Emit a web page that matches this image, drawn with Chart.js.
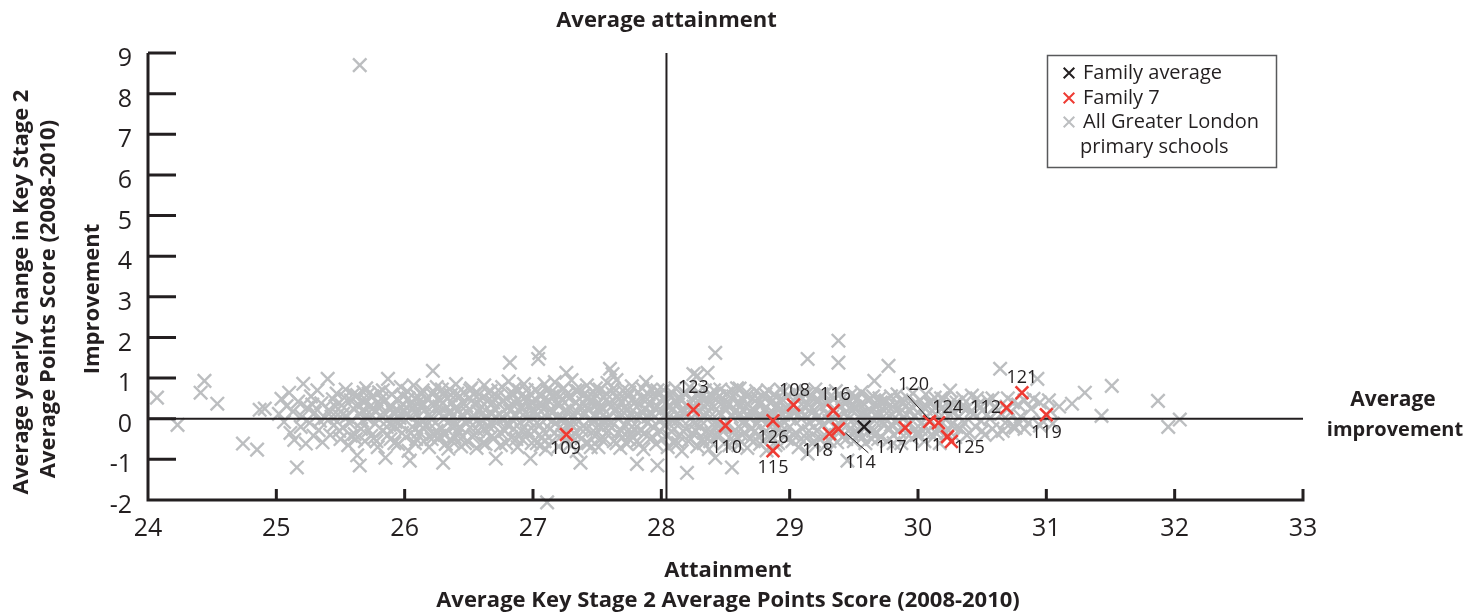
<!DOCTYPE html>
<html>
<head>
<meta charset="utf-8">
<script src="https://cdn.jsdelivr.net/npm/chart.js@4.4.0/dist/chart.umd.min.js"></script>
<style>
  html, body { margin: 0; padding: 0; background: #fff; }
</style>
</head>
<body>
<canvas id="myChart" width="1463" height="612"></canvas>
<script>
const xTicks = [24, 25, 26, 27, 28, 29, 30, 31, 32, 33];
const yTicks = [-2, -1, 0, 1, 2, 3, 4, 5, 6, 7, 8, 9];

const averageAttainment = 28.04;
const averageImprovement = 0;

const familyAverage = [[29.58, -0.20]];

const family7Ids = ['109', '123', '110', '126', '115', '108', '116', '118', '114', '117', '120', '124', '111', '125', '112', '121', '119'];
const family7Attainment = [27.26, 28.25, 28.50, 28.87, 28.87, 29.03, 29.34, 29.31, 29.38, 29.90, 30.09, 30.16, 30.23, 30.26, 30.69, 30.81, 31.00];
const family7Improvement = [-0.39, 0.22, -0.17, -0.05, -0.79, 0.34, 0.20, -0.37, -0.25, -0.22, -0.07, -0.10, -0.44, -0.56, 0.27, 0.64, 0.10];

// all Greater London primary schools
const schools24 = [[24.07,0.52],[24.23,-0.15],[24.41,0.64],[24.44,0.93],[24.54,0.37],[24.74,-0.61],[24.85,-0.76],[24.87,0.22],[24.91,0.25]];

const schools25 = [[25.02,0.12],[25.04,0.49],[25.06,-0.08],[25.08,0.31],[25.1,0.64],[25.11,-0.35],[25.13,0.18],[25.14,-0.52],[25.16,-1.2],[25.17,0.42],
  [25.19,-0.2],[25.2,0.05],[25.21,0.86],[25.23,-0.61],[25.24,0.27],[25.26,-0.1],[25.27,0.55],[25.29,-0.42],[25.3,0.15],[25.32,0.7],
  [25.33,-0.28],[25.35,0.38],[25.36,-0.58],[25.38,0.02],[25.4,0.98],[25.41,0.22],[25.42,-0.4],[25.44,0.48],[25.45,-0.15],[25.47,0.62],
  [25.48,0.1],[25.5,-0.5],[25.51,0.33],[25.52,-0.22],[25.54,0.72],[25.55,0.05],[25.56,-0.65],[25.58,0.45],[25.59,-0.05],[25.6,0.25],
  [25.61,-0.38],[25.63,-0.9],[25.63,0.58],[25.65,-1.15],[25.65,0.12],[25.66,-0.25],[25.68,0.4],[25.69,-0.55],[25.7,0.75],[25.71,0.0],
  [25.73,0.3],[25.74,-0.42],[25.75,0.55],[25.77,-0.12],[25.78,0.18],[25.79,-0.7],[25.8,0.65],[25.81,0.08],[25.83,-0.3],[25.84,0.42],
  [25.85,-0.96],[25.86,-0.05],[25.87,0.98],[25.88,0.28],[25.89,-0.5],[25.9,0.6],[25.91,0.15],[25.92,-0.2],[25.94,0.48],[25.95,-0.62],
  [25.96,0.02],[25.97,0.78],[25.98,-0.35],[25.99,0.35],[25.72,0.62],[25.76,-0.48],[25.82,0.5],[25.93,-0.08],[25.67,0.2],
  [25.43,0.05],[25.46,0.3],[25.49,-0.3],[25.53,0.52],[25.57,-0.1],[25.6,0.6],[25.62,-0.5],[25.64,0.35],[25.67,-0.05],[25.7,0.45],
  [25.72,-0.28],[25.75,0.25],[25.78,-0.55],[25.8,0.35],[25.83,0.7],[25.85,0.1],[25.87,-0.4],[25.9,0.3],[25.92,-0.6],[25.95,0.2],
  [25.97,-0.15],[25.99,0.55],[25.52,0.12],[25.58,-0.42],[25.68,0.65],[25.74,0.1],[25.86,-0.2],[25.94,0.05],[25.34,-0.05],[25.28,0.35]];

const schools26 = [[26.0,0.2],[26.01,-0.45],[26.02,0.68],[26.03,-0.79],[26.04,-1.03],[26.04,0.05],[26.05,0.4],[26.06,-0.2],[26.07,0.82],[26.08,-0.6],
  [26.09,0.12],[26.1,0.55],[26.11,-0.32],[26.12,0.3],[26.13,-0.05],[26.14,0.7],[26.15,-0.55],[26.16,0.22],[26.17,-0.15],[26.18,0.48],
  [26.19,-0.7],[26.2,0.02],[26.21,0.62],[26.22,1.18],[26.22,-0.38],[26.23,0.35],[26.24,-0.1],[26.25,0.78],[26.26,-0.5],[26.27,0.15],
  [26.28,0.45],[26.29,-0.25],[26.3,-1.08],[26.3,0.6],[26.31,0.0],[26.32,-0.62],[26.33,0.28],[26.34,-0.74],[26.35,0.72],[26.36,-0.18],
  [26.37,0.4],[26.38,0.08],[26.39,-0.45],[26.4,0.85],[26.41,0.2],[26.42,-0.3],[26.43,0.55],[26.44,-0.68],[26.45,0.1],[26.46,0.65],
  [26.47,-0.08],[26.48,0.32],[26.49,-0.55],[26.5,0.5],[26.51,-0.22],[26.52,0.75],[26.53,0.02],[26.54,-0.4],[26.55,0.38],[26.56,-0.72],
  [26.57,0.18],[26.58,0.6],[26.59,-0.12],[26.6,0.3],[26.61,-0.6],[26.62,0.82],[26.63,0.05],[26.64,-0.35],[26.65,0.45],[26.66,-0.2],
  [26.67,0.68],[26.68,0.12],[26.69,-0.5],[26.7,0.25],[26.71,-0.98],[26.72,0.55],[26.73,-0.05],[26.74,0.35],[26.75,-0.65],[26.76,0.78],
  [26.77,0.0],[26.78,-0.3],[26.79,0.5],[26.8,-0.15],[26.81,0.92],[26.82,1.38],[26.82,0.2],[26.83,-0.45],[26.84,0.62],[26.85,-0.25],
  [26.86,0.4],[26.87,0.08],[26.88,-0.7],[26.89,0.7],[26.9,-0.1],[26.91,0.3],[26.92,-0.52],[26.93,0.85],[26.94,0.15],[26.95,-0.35],
  [26.96,0.48],[26.97,-0.05],[26.98,-0.98],[26.98,0.6],[26.99,0.22],[26.15,0.35],[26.27,-0.42],[26.36,0.58],[26.5,-0.05],[26.62,-0.25],
  [26.74,0.1],[26.88,0.45],[26.95,0.7],[26.08,0.3],[26.45,-0.45],
  [26.01,0.1],[26.03,0.5],[26.05,-0.35],[26.07,0.25],[26.09,-0.5],[26.11,0.42],[26.13,0.6],[26.15,-0.25],[26.17,0.5],[26.19,0.1],
  [26.21,-0.5],[26.23,0.65],[26.25,-0.3],[26.27,0.3],[26.29,0.72],[26.31,-0.4],[26.33,0.5],[26.35,-0.05],[26.37,-0.55],[26.39,0.25],
  [26.41,0.62],[26.43,-0.2],[26.45,0.4],[26.47,-0.6],[26.49,0.15],[26.51,0.7],[26.53,-0.45],[26.55,0.05],[26.57,-0.3],[26.59,0.45],
  [26.61,0.15],[26.63,-0.62],[26.65,0.65],[26.67,-0.1],[26.69,0.4],[26.71,0.05],[26.73,0.7],[26.75,-0.35],[26.77,0.45],[26.79,-0.6],
  [26.81,0.3],[26.83,0.0],[26.85,0.6],[26.87,-0.5],[26.89,0.2],[26.91,-0.3],[26.93,0.5],[26.95,0.0],[26.97,0.35],[26.99,-0.6],
  [26.12,-0.15],[26.26,0.5],[26.4,-0.15],[26.54,0.6],[26.68,-0.42],[26.82,-0.15],[26.96,-0.3],[26.34,0.15],[26.6,-0.05],[26.86,0.75]];

const schools27 = [[27.0,0.4],[27.01,-0.3],[27.02,0.72],[27.03,-0.6],[27.04,1.47],[27.04,0.1],[27.05,1.62],[27.05,-0.15],[27.06,0.55],[27.07,-0.45],
  [27.08,0.25],[27.09,0.85],[27.1,-0.75],[27.11,-2.06],[27.11,0.02],[27.12,0.45],[27.13,-0.25],[27.14,0.65],[27.15,-0.55],[27.16,0.18],
  [27.17,0.9],[27.18,-0.1],[27.19,0.35],[27.2,-0.68],[27.21,0.55],[27.22,0.0],[27.23,-0.4],[27.24,0.75],[27.25,0.2],[27.26,1.13],
  [27.27,-0.2],[27.28,0.5],[27.29,-0.62],[27.3,0.95],[27.31,0.1],[27.32,-0.35],[27.33,0.4],[27.34,-0.8],[27.35,0.68],[27.36,-0.05],
  [27.37,-1.08],[27.37,0.3],[27.38,-0.48],[27.39,0.58],[27.4,0.12],[27.41,-0.25],[27.42,0.82],[27.43,-0.6],[27.44,0.22],[27.45,0.45],
  [27.46,-0.12],[27.47,0.65],[27.48,-0.42],[27.49,0.05],[27.5,0.35],[27.51,-0.7],[27.52,0.72],[27.53,-0.2],[27.54,0.28],[27.55,0.52],
  [27.56,-0.5],[27.57,0.0],[27.58,0.88],[27.59,-0.3],[27.6,1.23],[27.6,0.4],[27.61,-0.08],[27.62,1.1],[27.62,0.62],[27.63,-0.55],
  [27.64,0.18],[27.65,0.95],[27.66,-0.35],[27.67,0.48],[27.68,-0.72],[27.69,0.1],[27.7,0.7],[27.71,-0.15],[27.72,0.3],[27.73,-0.62],
  [27.74,0.55],[27.75,0.02],[27.76,-0.4],[27.77,0.8],[27.78,0.2],[27.79,-0.25],[27.8,0.42],[27.81,-1.11],[27.81,-0.55],[27.82,0.65],
  [27.83,0.05],[27.84,-0.3],[27.85,0.5],[27.86,-0.75],[27.87,0.25],[27.88,0.9],[27.89,-0.1],[27.9,0.35],[27.91,-0.5],[27.92,0.72],
  [27.93,0.12],[27.94,-0.22],[27.95,0.55],[27.96,-0.62],[27.97,-1.15],[27.97,0.3],[27.98,-0.05],[27.99,0.62],[27.08,-0.3],[27.2,0.4],
  [27.28,-0.1],[27.45,-0.7],[27.52,0.3],[27.66,0.3],[27.75,-0.5],[27.9,0.05],[27.03,0.3],[27.15,-0.05],[27.4,0.6],[27.57,-0.35],
  [27.7,-0.45],[27.85,0.15],
  [27.01,0.15],[27.03,-0.1],[27.05,0.6],[27.07,0.35],[27.09,-0.55],[27.11,0.7],[27.13,0.2],[27.15,0.55],[27.17,-0.35],[27.19,0.05],
  [27.21,-0.2],[27.23,0.45],[27.25,-0.55],[27.27,0.62],[27.29,0.25],[27.31,-0.45],[27.33,0.7],[27.35,0.15],[27.37,-0.25],[27.39,0.4],
  [27.41,-0.6],[27.43,0.55],[27.45,0.0],[27.47,-0.3],[27.49,0.75],[27.51,0.2],[27.53,-0.5],[27.55,0.1],[27.57,0.62],[27.59,-0.15],
  [27.61,0.3],[27.63,0.75],[27.65,-0.6],[27.67,0.0],[27.69,-0.3],[27.71,0.5],[27.73,0.2],[27.75,0.65],[27.77,-0.2],[27.79,0.05],
  [27.81,0.3],[27.83,-0.62],[27.85,0.75],[27.87,-0.35],[27.89,0.48],[27.91,0.15],[27.93,-0.45],[27.95,0.25],[27.97,0.7],[27.99,-0.3],
  [27.06,-0.65],[27.18,0.6],[27.3,-0.15],[27.42,0.25],[27.54,-0.05],[27.66,0.55],[27.78,-0.45],[27.9,0.6],[27.24,0.0],[27.48,0.5]];

const schools28 = [[28.0,0.2],[28.01,-0.5],[28.02,0.7],[28.03,-0.15],[28.04,0.4],[28.05,-0.7],[28.06,0.05],[28.07,0.58],[28.08,-0.32],[28.09,0.25],
  [28.1,-0.6],[28.11,0.75],[28.12,-0.05],[28.13,0.35],[28.14,-0.42],[28.15,0.5],[28.16,-0.8],[28.17,0.15],[28.18,0.62],[28.19,-0.25],
  [28.2,-1.33],[28.2,0.3],[28.21,-0.55],[28.22,0.78],[28.23,0.0],[28.24,-0.35],[28.25,1.1],[28.25,0.45],[28.26,-0.12],[28.27,0.6],
  [28.28,1.06],[28.28,-0.68],[28.29,0.2],[28.3,-0.2],[28.31,0.52],[28.32,-0.5],[28.33,0.1],[28.34,0.7],[28.35,-0.3],[28.36,1.13],
  [28.36,0.35],[28.37,-0.75],[28.38,0.05],[28.39,0.58],[28.4,-0.15],[28.41,0.3],[28.42,1.62],[28.42,-0.96],[28.43,0.48],[28.44,-0.45],
  [28.45,0.15],[28.46,0.72],[28.47,-0.22],[28.48,0.4],[28.49,-0.6],[28.5,0.25],[28.51,0.62],[28.52,-0.1],[28.53,0.38],[28.54,-0.5],
  [28.55,-1.2],[28.55,0.05],[28.56,0.55],[28.57,-0.3],[28.58,0.2],[28.59,0.75],[28.6,-0.65],[28.61,0.74],[28.62,0.1],[28.63,-0.4],
  [28.64,0.45],[28.65,-0.05],[28.66,0.3],[28.67,-0.72],[28.68,0.6],[28.69,0.0],[28.7,-0.25],[28.71,0.5],[28.72,-0.55],[28.73,0.18],
  [28.74,0.68],[28.75,-0.12],[28.76,0.35],[28.77,-0.62],[28.78,0.08],[28.79,0.55],[28.8,-0.35],[28.81,0.25],[28.82,-0.78],[28.83,0.7],
  [28.84,-0.05],[28.85,0.4],[28.86,-0.45],[28.87,0.15],[28.88,0.6],[28.89,-0.2],[28.9,0.32],[28.91,-0.6],[28.92,0.05],[28.93,0.72],
  [28.94,-0.3],[28.95,0.45],[28.96,-0.1],[28.97,0.25],[28.98,-0.5],[28.99,0.58],[28.05,0.3],[28.15,0.0],[28.3,0.4],[28.45,-0.4],
  [28.6,0.4],[28.7,0.15],[28.85,-0.2],[28.95,0.1],[28.1,-0.25],[28.4,0.55],
  [28.01,0.5],[28.03,0.05],[28.05,-0.4],[28.07,0.3],[28.09,-0.05],[28.11,0.45],[28.13,-0.6],[28.15,0.2],[28.17,-0.3],[28.19,0.6],
  [28.21,0.1],[28.23,-0.5],[28.25,0.3],[28.27,-0.3],[28.29,0.65],[28.31,-0.05],[28.33,-0.6],[28.35,0.5],[28.37,0.2],[28.39,-0.35],
  [28.41,0.7],[28.43,-0.15],[28.45,0.55],[28.47,0.1],[28.49,-0.2],[28.51,0.4],[28.53,-0.65],[28.55,0.7],[28.57,0.15],[28.59,-0.45],
  [28.61,0.3],[28.63,-0.1],[28.65,0.6],[28.67,0.1],[28.69,-0.5],[28.71,0.25],[28.73,-0.3],[28.75,0.5],[28.77,0.0],[28.79,-0.55],
  [28.81,0.6],[28.83,0.1],[28.85,-0.4],[28.87,0.45],[28.89,-0.65],[28.91,0.2],[28.93,-0.15],[28.95,0.65],[28.97,-0.4],[28.99,0.1],
  [28.08,0.65],[28.38,-0.55],[28.62,-0.25],[28.78,0.4],[28.92,0.45]];

const schools29 = [[29.0,-0.2],[29.01,0.4],[29.02,-0.55],[29.03,0.15],[29.04,0.68],[29.05,-0.35],[29.06,0.25],[29.07,-0.7],[29.08,0.5],[29.09,0.0],
  [29.1,-0.25],[29.11,0.62],[29.12,0.1],[29.13,-0.48],[29.14,1.47],[29.14,-0.86],[29.15,0.35],[29.16,-0.1],[29.17,0.55],[29.18,-0.6],
  [29.19,0.2],[29.2,0.72],[29.21,-0.3],[29.22,0.05],[29.23,0.45],[29.24,-0.5],[29.25,0.3],[29.26,-0.15],[29.27,0.6],[29.28,-0.65],
  [29.29,0.12],[29.3,0.4],[29.31,-0.05],[29.32,0.55],[29.33,-0.42],[29.34,0.22],[29.35,-0.2],[29.36,0.68],[29.37,-0.58],[29.38,1.92],
  [29.38,1.38],[29.38,0.08],[29.39,0.35],[29.4,-0.3],[29.41,0.5],[29.42,-0.1],[29.43,0.15],[29.44,-0.5],[29.45,-1.03],[29.45,0.42],
  [29.46,0.0],[29.47,-0.25],[29.48,0.6],[29.49,0.2],[29.5,-0.55],[29.51,0.3],[29.52,-0.1],[29.53,0.5],[29.54,-0.38],[29.55,0.1],
  [29.56,0.65],[29.57,-0.2],[29.58,0.35],[29.59,-0.6],[29.6,0.05],[29.61,0.45],[29.62,-0.3],[29.63,0.2],[29.64,-0.5],[29.65,0.55],
  [29.66,0.93],[29.66,-0.05],[29.67,0.3],[29.68,-0.35],[29.69,0.12],[29.7,0.5],[29.71,-0.45],[29.72,0.25],[29.73,-0.15],[29.74,0.42],
  [29.75,0.0],[29.76,-0.55],[29.77,1.3],[29.77,0.3],[29.78,-0.25],[29.79,0.55],[29.8,0.1],[29.81,-0.4],[29.82,0.35],[29.83,-0.1],
  [29.84,0.6],[29.85,-0.3],[29.86,0.15],[29.87,-0.6],[29.88,0.4],[29.89,0.02],[29.9,0.3],[29.91,-0.35],[29.92,0.5],[29.93,-0.15],
  [29.94,0.2],[29.95,-0.48],[29.96,0.62],[29.97,0.05],[29.98,-0.25],[29.99,0.38],
  [29.01,0.05],[29.03,-0.4],[29.05,0.5],[29.07,0.1],[29.09,-0.5],[29.11,0.3],[29.13,0.6],[29.15,-0.3],[29.17,0.15],[29.19,-0.55],
  [29.21,0.45],[29.23,-0.1],[29.25,0.6],[29.27,-0.4],[29.29,0.35],[29.31,-0.55],[29.33,0.05],[29.35,0.5],[29.37,-0.2],[29.39,0.6],
  [29.41,-0.45],[29.43,0.4],[29.45,-0.15],[29.47,0.25],[29.49,-0.4],[29.51,0.55],[29.53,-0.25],[29.55,0.35],[29.57,-0.45],[29.59,0.15],
  [29.61,-0.15],[29.63,0.5],[29.65,-0.3],[29.67,0.1],[29.69,-0.5],[29.71,0.4],[29.73,0.05],[29.75,0.45],[29.79,-0.15],[29.83,0.2],
  [29.87,0.45],[29.91,0.1],[29.95,0.3],[29.99,-0.4],[29.81,-0.6]];

const schools30 = [[30.0,0.15],[30.01,-0.4],[30.02,0.45],[30.03,-0.1],[30.04,0.3],[30.05,-0.55],[30.06,0.6],[30.07,0.05],[30.08,-0.3],[30.09,0.38],
  [30.1,-0.05],[30.11,0.2],[30.12,-0.45],[30.13,0.52],[30.14,0.1],[30.15,-0.25],[30.16,0.35],[30.17,-0.6],[30.18,0.25],[30.19,-0.1],
  [30.2,0.48],[30.21,0.0],[30.22,-0.35],[30.24,0.3],[30.25,0.69],[30.26,-0.15],[30.27,0.15],[30.29,-0.45],[30.3,0.4],[30.32,0.05],
  [30.33,-0.25],[30.35,0.5],[30.36,-0.1],[30.38,0.25],[30.4,-0.35],[30.42,0.57],[30.43,0.1],[30.45,-0.2],[30.47,0.35],[30.49,-0.05],
  [30.5,0.2],[30.52,-0.4],[30.54,0.45],[30.56,0.0],[30.58,-0.25],[30.6,0.3],[30.62,-0.37],[30.64,1.23],[30.65,0.12],[30.68,-0.1],
  [30.7,0.5],[30.72,0.15],[30.74,-0.2],[30.76,-0.22],[30.78,0.35],[30.8,0.05],[30.83,0.45],[30.83,-0.25],[30.86,-0.1],[30.88,0.25],
  [30.9,0.49],[30.93,0.98],[30.95,0.4],[30.95,-0.17],[30.97,-0.05],
  [30.02,-0.25],[30.06,0.25],[30.1,0.4],[30.14,-0.35],[30.18,0.5],[30.22,0.2],[30.26,0.4],[30.3,-0.2],[30.34,0.3],[30.38,-0.4],
  [30.42,0.2],[30.46,0.5],[30.5,-0.3],[30.54,0.1],[30.58,0.5],[30.62,0.2],[30.66,-0.3],[30.7,0.25],[30.74,0.4],[30.78,-0.1]];

const schools31 = [[31.02,0.45],[31.03,0.2],[31.05,-0.12],[31.1,0.3],[31.2,0.37],[31.3,0.64],[31.43,0.07],[31.51,0.81],[31.87,0.44],[31.95,-0.2],[32.04,-0.02]];

const schoolsOutliers = [[25.65,8.7]];

// ---- styles ----
const ink = '#231f20';
const grey = '#bcbec0';
const red = '#ee3b33';
const font = '"Open Sans", "Noto Sans", sans-serif';

const labelOffsets = {
  '123': [0, -22], '110': [1, 22], '126': [0, 17], '115': [0, 17], '108': [1, -14], '116': [2, -16],
  '118': [-12, 17], '114': [22, 34], '117': [-14, 20], '120': [-16, -37], '124': [9, -15], '111': [-21, 9],
  '125': [18, 6], '112': [-21, 0], '121': [0, -15], '119': [0, 18], '109': [-1, 14]
};
const leaderLines = { '114': [[7, 4], [30, 24]], '120': [[-2, -4], [-22, -26]] };

const toPoints = arr => arr.map(p => ({ x: p[0], y: p[1] }));
const allSchools = toPoints([].concat(schools24, schools25, schools26, schools27, schools28, schools29, schools30, schools31, schoolsOutliers));
const family7 = family7Attainment.map((v, i) => ({ x: v, y: family7Improvement[i] }));

const decor = {
    id: 'decor',
    afterDatasetsDraw(chart) {
        const { ctx, scales: { x, y } } = chart;
        const x0 = x.getPixelForValue(xTicks[0]);
        const x1 = x.getPixelForValue(xTicks[xTicks.length - 1]);
        const y0 = y.getPixelForValue(yTicks[0]);
        const y1 = y.getPixelForValue(yTicks[yTicks.length - 1]);
        ctx.save();
        ctx.strokeStyle = ink;
        ctx.lineWidth = 3;
        ctx.beginPath();
        ctx.moveTo(x0, y1);
        ctx.lineTo(x0, y0);
        ctx.lineTo(x1 + 1.5, y0);
        xTicks.forEach(v => {
            const px = x.getPixelForValue(v);
            ctx.moveTo(px, y0);
            ctx.lineTo(px, y0 - 11);
        });
        yTicks.forEach(v => {
            const py = y.getPixelForValue(v);
            ctx.moveTo(x0, py);
            ctx.lineTo(x0 + 28, py);
        });
        ctx.stroke();

        // labels of family 7 schools
        const meta = chart.getDatasetMeta(1);
        ctx.fillStyle = ink;
        ctx.font = '18px ' + font;
        ctx.textAlign = 'center';
        ctx.textBaseline = 'middle';
        ctx.lineWidth = 1;
        family7Ids.forEach((id, i) => {
            const pt = meta.data[i];
            const off = labelOffsets[id];
            ctx.fillText(id, pt.x + off[0], pt.y + off[1]);
            const ld = leaderLines[id];
            if (ld) {
                ctx.beginPath();
                ctx.moveTo(pt.x + ld[0][0], pt.y + ld[0][1]);
                ctx.lineTo(pt.x + ld[1][0], pt.y + ld[1][1]);
                ctx.stroke();
            }
        });

        // titles
        const vx = x.getPixelForValue(averageAttainment);
        ctx.font = 'bold 22px ' + font;
        ctx.fillText('Average attainment', vx, 21);
        ctx.fillText('Attainment', 728, 571);
        ctx.fillText('Average Key Stage 2 Average Points Score (2008-2010)', 728, 601);
        ctx.save();
        ctx.translate(22, 292);
        ctx.rotate(-Math.PI / 2);
        ctx.fillText('Average yearly change in Key Stage 2', 0, 0);
        ctx.fillText('Average Points Score (2008-2010)', -7, 27);
        ctx.fillText('Improvement', -7, 71);
        ctx.restore();
        ctx.font = 'bold 21px ' + font;
        ctx.fillText('Average', 1393, 400);
        ctx.font = 'bold 20px ' + font;
        ctx.fillText('improvement', 1395, 430);

        // legend
        ctx.lineWidth = 1.5;
        ctx.strokeStyle = '#58595b';
        ctx.strokeRect(1047.5, 55.5, 229, 112);
        const items = [
            ['Family average', ink, 73],
            ['Family 7', red, 98],
            ['All Greater London', grey, 122]
        ];
        ctx.font = '20px ' + font;
        ctx.textAlign = 'left';
        items.forEach(([txt, col, ly]) => {
            ctx.strokeStyle = col;
            ctx.lineWidth = 2;
            Chart.helpers.drawPoint(ctx, { pointStyle: 'crossRot', radius: 7.5, borderWidth: 2 }, 1069, ly);
            ctx.fillStyle = ink;
            ctx.fillText(txt, 1083, ly);
        });
        ctx.fillText('primary schools', 1080, 147);
        ctx.restore();
    }
};

new Chart(document.getElementById('myChart'), {
    type: 'scatter',
    data: {
        datasets: [
            {
                label: 'Family average',
                data: toPoints(familyAverage),
                pointStyle: 'crossRot',
                pointRadius: 9,
                pointHoverRadius: 9,
                pointBorderColor: ink,
                pointBorderWidth: 2.4,
                order: 0
            },
            {
                label: 'Family 7',
                data: family7,
                pointStyle: 'crossRot',
                pointRadius: 9,
                pointHoverRadius: 9,
                pointBorderColor: red,
                pointBorderWidth: 2.6,
                order: 1
            },
            {
                label: 'Average attainment',
                type: 'line',
                data: [{ x: averageAttainment, y: yTicks[0] }, { x: averageAttainment, y: yTicks[yTicks.length - 1] }],
                borderColor: ink,
                borderWidth: 2,
                pointRadius: 0,
                order: 2
            },
            {
                label: 'Average improvement',
                type: 'line',
                data: [{ x: xTicks[0], y: averageImprovement }, { x: xTicks[xTicks.length - 1], y: averageImprovement }],
                borderColor: ink,
                borderWidth: 2,
                pointRadius: 0,
                order: 2
            },
            {
                label: 'All Greater London primary schools',
                data: allSchools,
                pointStyle: 'crossRot',
                pointRadius: 9.5,
                pointHoverRadius: 9.5,
                pointBorderColor: grey,
                pointBorderWidth: 2.4,
                clip: false,
                order: 3
            }
        ]
    },
    options: {
        responsive: false,
        animation: false,
        events: [],
        layout: { padding: { top: 53, right: 160, left: 0, bottom: 0 } },
        plugins: { legend: { display: false }, tooltip: { enabled: false } },
        scales: {
            x: {
                type: 'linear',
                min: xTicks[0],
                max: xTicks[xTicks.length - 1],
                afterBuildTicks: s => { s.ticks = xTicks.map(v => ({ value: v })); },
                afterFit: s => { s.height = 112; },
                ticks: { color: ink, font: { family: font, size: 25 }, padding: 14, maxRotation: 0 },
                grid: { display: false, drawTicks: false },
                border: { display: false }
            },
            y: {
                min: yTicks[0],
                max: yTicks[yTicks.length - 1],
                afterBuildTicks: s => { s.ticks = yTicks.map(v => ({ value: v })); },
                afterFit: s => { s.width = 148; },
                ticks: { color: ink, font: { family: font, size: 25 }, padding: 16, labelOffset: 6 },
                grid: { display: false, drawTicks: false },
                border: { display: false }
            }
        }
    },
    plugins: [decor]
});
</script>
</body>
</html>
